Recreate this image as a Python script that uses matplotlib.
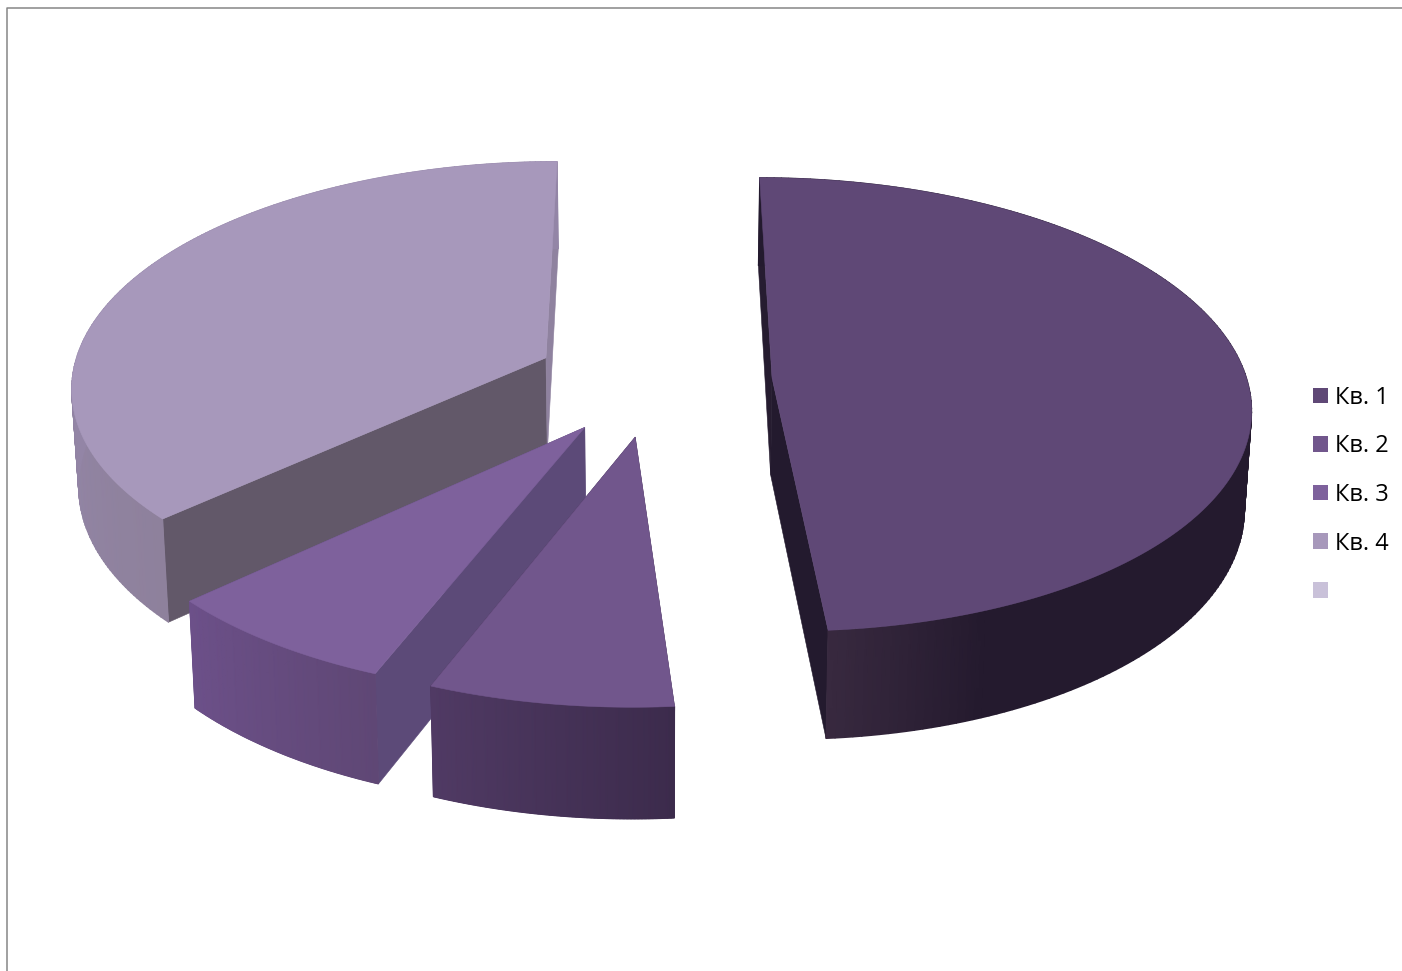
#!/usr/bin/env python3
"""Exploded 3D-style pie of the quarterly shares, drawn as projected polygons."""

import numpy as np
import matplotlib
matplotlib.use("Agg")
import matplotlib.pyplot as plt
from matplotlib.colors import LinearSegmentedColormap
from matplotlib.patches import Patch, Polygon

quarters = ["Кв. 1", "Кв. 2", "Кв. 3", "Кв. 4", ""]
shares = [48.8, 7.18, 7.15, 36.87, 0.0]

top_colors = ["#5f4876", "#71568c", "#7e619c", "#a798bb", "#c9c1d9"]
# (position along the arc, colour) pairs for the rim shading
wall_stops = [
    [(0.0, "#231a2e"), (0.90, "#241a2e"), (1.0, "#38293f")],
    [(0.0, "#3c2b4c"), (1.0, "#503a64")],
    [(0.0, "#5f4775"), (1.0, "#6c5089")],
    [(0.0, "#8e819c"), (0.3, "#9385a6"), (1.0, "#9385a6")],
]
cut_colors = [
    ("#261c30", "#231a2e"),
    ("#3c2b4c", "#3c2b4c"),
    ("#5c4a78", "#5c4a78"),
    ("#625869", "#8f829f"),
]

# projection of the pie plane onto the picture (pixels)
X0, Y0 = 653.5, 380.0
RX, RY = 475.0, 224.1
PERSP = 0.117
EXPLODE = 0.25
SHRINK_X, SHRINK_Y, DEPTH = 0.988, 1.045, 97.0


def project(px, pz):
    w = 1 + PERSP * pz
    return X0 + RX * px / w, Y0 - RY * pz / w


def lower(sx, sy):
    return X0 + SHRINK_X * (sx - X0), Y0 + DEPTH + SHRINK_Y * (sy - Y0)


def draw_slice(ax, start, end, top, stops, cuts):
    mid = np.radians((start + end) / 2)
    ox, oz = EXPLODE * np.sin(mid), EXPLODE * np.cos(mid)
    theta = np.radians(np.linspace(start, end, 181))
    rim_x, rim_y = project(ox + np.sin(theta), oz + np.cos(theta))
    low_x, low_y = lower(rim_x, rim_y)
    ax_x, ax_y = project(ox, oz)
    lax_x, lax_y = lower(ax_x, ax_y)

    # flat cut faces first, rim next, top face last
    for idx, color in zip((0, -1), cuts):
        face = [(ax_x, ax_y), (rim_x[idx], rim_y[idx]), (low_x[idx], low_y[idx]), (lax_x, lax_y)]
        ax.add_patch(Polygon(face, closed=True, fc=color, ec=color, lw=0.4))
    cmap = LinearSegmentedColormap.from_list("rim", stops)
    t = np.linspace(0, 1, len(theta))
    ax.pcolormesh(
        np.vstack([rim_x, low_x]), np.vstack([rim_y, low_y]), np.vstack([t, t]),
        cmap=cmap, vmin=0, vmax=1, shading="gouraud",
    )
    outline = [(ax_x, ax_y)] + list(zip(rim_x, rim_y))
    ax.add_patch(Polygon(outline, closed=True, fc=top, ec=top, lw=0.4))


fig = plt.figure(figsize=(14.02, 9.71), dpi=100)
ax = fig.add_axes([0, 0, 1, 1])
ax.axis("off")

ax.plot([7, 7, 1402], [971, 8, 8], color="#868686", lw=1.1)

edges = np.concatenate([[0], np.cumsum(shares[:4]) / np.sum(shares) * 360])
# back slices go first so the front ones cover them
for i in (3, 2, 1, 0):
    draw_slice(ax, edges[i], edges[i + 1], top_colors[i], wall_stops[i], cut_colors[i])

ax.set_xlim(0, 1402)
ax.set_ylim(971, 0)

handles = [Patch(fc=c, ec="none") for c in top_colors]
ax.legend(
    handles, quarters, loc="center left", bbox_to_anchor=(1313 / 1402, 1 - 495 / 971),
    bbox_transform=fig.transFigure, frameon=False, prop={"family": "Open Sans", "size": 17},
    handlelength=0.635, handleheight=0.635, handletextpad=0.28, labelspacing=1.04,
    borderpad=0, borderaxespad=0,
)

fig.savefig("out.png", dpi=100)
plt.close(fig)
